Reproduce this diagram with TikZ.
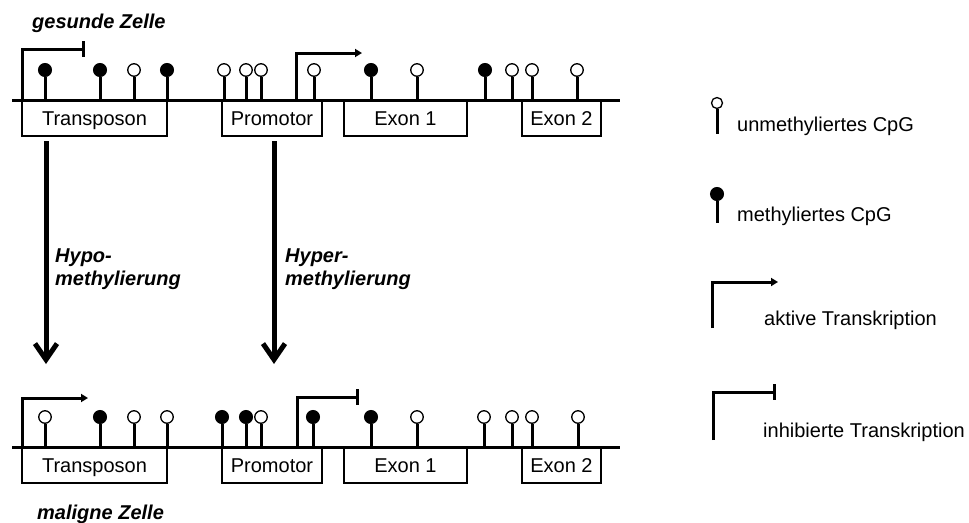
\documentclass[tikz,border=0pt]{standalone}
\usepackage{fontspec}
\setmainfont{Liberation Sans}
\usetikzlibrary{arrows.meta}

\begin{document}
\begin{tikzpicture}[x=1pt,y=-1pt,
  txt/.style={font=\fontsize{20}{24}\selectfont, inner sep=0pt},
  lbl/.style={font=\fontsize{20}{23}\selectfont\bfseries\itshape, inner sep=0pt, align=left},
  region/.style={draw, line width=1.2pt, font=\fontsize{20}{24}\selectfont,
                 inner sep=0pt, minimum height=36pt, text height=14pt, text depth=0pt},
  strand/.style={line width=3pt},
  stem/.style={line width=3pt},
  umc/.style={circle, draw, fill=white, line width=1.3pt, minimum size=12.5pt, inner sep=0pt},
  mc/.style={circle, draw, fill=black, line width=1pt, minimum size=13pt, inner sep=0pt},
  tss/.style={line width=3pt, line join=miter},
  act/.style={tss, -{Triangle[length=7pt,width=8pt]}},
  inh/.style={tss, -{Bar[width=16pt,line width=3pt]}},
  bigstep/.style={line width=5pt, -{Straight Barb[length=16pt,width=22pt,line width=5pt]}}
]
\useasboundingbox (0,0) rectangle (969,522);

% ---------- healthy cell ----------
\node[lbl, anchor=base west] (hTitle) at (32,28) {gesunde Zelle};

\node[region, minimum width=145pt] (hTp) at (94.5,118) {Transposon};
\node[region, minimum width=100pt] (hPr) at (272,118) {Promotor};
\node[region, minimum width=123pt] (hE1) at (405.5,118) {Exon 1};
\node[region, minimum width=79pt, line width=2.2pt] (hE2) at (561.5,118) {Exon 2};

\coordinate (hL) at (12,100);
\coordinate (hR) at (620,100);
\draw[strand] (hL) -- (hR);

\foreach \x/\k [count=\i] in {45/mc,100/mc,134/umc,167/mc,224/umc,246/umc,261/umc,
                              314/umc,371/mc,417/umc,485/mc,512/umc,532/umc,577/umc} {
  \node[\k] (hc\i) at (\x,70) {};
  \coordinate (hb\i) at (\x,100);
  \draw[stem] (hc\i.south) -- (hb\i);
}

% transposon start: silenced
\coordinate (hT0) at (22,100);
\coordinate (hT1) at (22,49);
\coordinate (hT2) at (85,49);
\draw[inh] (hT0) -- (hT1) -- (hT2);

% promoter start: active
\coordinate (hP0) at (296,100);
\coordinate (hP1) at (296,53);
\coordinate (hP2) at (362,53);
\draw[act] (hP0) -- (hP1) -- (hP2);

% ---------- transitions ----------
\coordinate (a1s) at (46,141);
\coordinate (a1e) at (46,364);
\draw[bigstep] (a1s) -- (a1e);
\node[lbl, anchor=base west] (hypo) at (55,285) {Hypo-\\methylierung};

\coordinate (a2s) at (274,141);
\coordinate (a2e) at (274,364);
\draw[bigstep] (a2s) -- (a2e);
\node[lbl, anchor=base west] (hyper) at (285,285) {Hyper-\\methylierung};

% ---------- malignant cell ----------
\node[region, minimum width=145pt] (mTp) at (94.5,465) {Transposon};
\node[region, minimum width=100pt] (mPr) at (272,465) {Promotor};
\node[region, minimum width=123pt] (mE1) at (405.5,465) {Exon 1};
\node[region, minimum width=79pt, line width=2.2pt] (mE2) at (561.5,465) {Exon 2};

\coordinate (mL) at (12,447);
\coordinate (mR) at (620,447);
\draw[strand] (mL) -- (mR);

\foreach \x/\k [count=\i] in {45/umc,100/mc,134/umc,167/umc,222/mc,246/mc,261/umc,
                              313/mc,371/mc,417/umc,484/umc,512/umc,532/umc,578/umc} {
  \node[\k] (mc\i) at (\x,417) {};
  \coordinate (mb\i) at (\x,447);
  \draw[stem] (mc\i.south) -- (mb\i);
}

% transposon start: active
\coordinate (mT0) at (22,447);
\coordinate (mT1) at (22,398);
\coordinate (mT2) at (88,398);
\draw[act] (mT0) -- (mT1) -- (mT2);

% promoter start: silenced
\coordinate (mP0) at (297,447);
\coordinate (mP1) at (297,397);
\coordinate (mP2) at (359,397);
\draw[inh] (mP0) -- (mP1) -- (mP2);

\node[lbl, anchor=base west] (mTitle) at (37,519) {maligne Zelle};

% ---------- legend ----------
\node[umc, minimum size=11pt] (k1c) at (717,103) {};
\coordinate (k1b) at (717,134);
\draw[stem] (k1c.south) -- (k1b);
\node[txt, anchor=base west] (k1t) at (737,131) {unmethyliertes CpG};

\node[mc] (k2c) at (717,194) {};
\coordinate (k2b) at (717,223);
\draw[stem] (k2c.south) -- (k2b);
\node[txt, anchor=base west] (k2t) at (737,221) {methyliertes CpG};

\coordinate (k3a) at (712,328);
\coordinate (k3b) at (712,282);
\coordinate (k3c) at (778,282);
\draw[act] (k3a) -- (k3b) -- (k3c);
\node[txt, anchor=base west] (k3t) at (764,325) {aktive Transkription};

\coordinate (k4a) at (713,440);
\coordinate (k4b) at (713,392);
\coordinate (k4c) at (776,392);
\draw[inh] (k4a) -- (k4b) -- (k4c);
\node[txt, anchor=base west] (k4t) at (763,437) {inhibierte Transkription};
\end{tikzpicture}
\end{document}
